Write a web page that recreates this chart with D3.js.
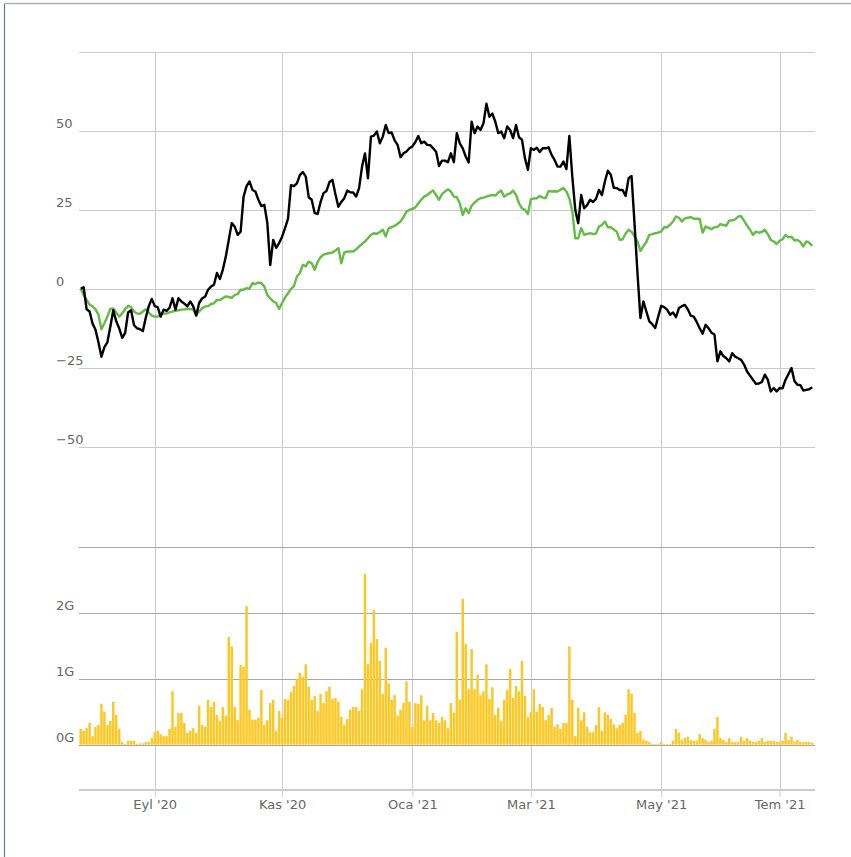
<!DOCTYPE html>
<html>
<head>
<meta charset="utf-8">
<script src="https://cdn.jsdelivr.net/npm/d3@7"></script>
<style>
  body { margin: 0; background: #fff; }
  svg { display: block; }
  text { font-family: "DejaVu Sans", sans-serif; }
</style>
</head>
<body>
<div id="chart"></div>
<script>
// trading calendar (Borsa Istanbul), one year of sessions
var firstDay = "2020-07-24";
var lastDay = "2021-07-19";
var holidays = ["2020-07-31", "2020-08-03", "2020-10-29", "2021-01-01", "2021-04-23",
                "2021-05-13", "2021-05-14", "2021-05-19", "2021-07-15"];

// x axis ticks: first session of these months
var tickMonths = ["2020-09", "2020-11", "2021-01", "2021-03", "2021-05", "2021-07"];
var tickLabels = ["Eyl '20", "Kas '20", "Oca '21", "Mar '21", "May '21", "Tem '21"];

// y axis ticks
var pctTicks = [-50, -25, 0, 25, 50, 75];
var volTicks = [0, 1, 2, 3];

// % change of the stock (black)
var stockPct = [
  0, 0.5, -6.5, -7.2, -11, -13, -17, -21.5, -18.5, -17,
  -12, -6.8, -10.3, -12.5, -15.5, -14, -7.5, -6.8, -11.5, -12.5,
  -12.8, -13.4, -9, -5.5, -3.2, -5.5, -5.8, -8.8, -6.6, -7,
  -6, -3, -6.6, -3, -4, -4.7, -5.6, -4, -5.6, -8.5,
  -4.5, -3, -2.5, -0.3, 0.7, 1.3, 5, 3.1, 6.1, 10.2,
  15.5, 20.8, 19.7, 17.1, 18.1, 29.2, 32.5, 34, 31.3, 30.8,
  28.2, 26.2, 26.6, 21, 7.5, 15.5, 13, 14.5, 16.5, 19.2,
  22.2, 32.8, 32.5, 33.4, 36, 37, 35.5, 29, 28.2, 24,
  23.7, 27.5, 30.3, 31, 33.8, 34.5, 30, 26, 27.5, 28.7,
  31.1, 30.6, 30.5, 29.2, 31.9, 38.7, 42.9, 35, 48.2, 48.5,
  49.8, 46.1, 48.2, 51.9, 49.3, 49.5, 47, 45.6, 41.7, 42.9,
  43.5, 44.5, 45.1, 46.5, 48.4, 46.1, 46.6, 45.6, 45.5, 44.5,
  43.4, 38.9, 40.6, 40.6, 40.1, 42.9, 40.1, 49.3, 46.1, 44.5,
  41.9, 40, 52.9, 49.3, 51.4, 50.3, 52.4, 58.6, 54.5, 55.5,
  52.9, 49.3, 49.8, 47.7, 51.4, 50.3, 47.7, 51.9, 48, 47.2,
  41.4, 37.7, 44.5, 44, 44.7, 43.3, 44.5, 44.5, 44.8, 42.4,
  40.8, 38.7, 38.7, 40.3, 37.9, 48.4, 35.5, 25, 20.8, 29.7,
  25.5, 26.5, 28.2, 27.5, 28.5, 31.3, 29.7, 34, 37.4, 36.1,
  32, 31.9, 31.3, 31.3, 29.4, 35, 35.7, 20.8, 5, -9.3,
  -4, -7.2, -10.3, -11.2, -12.4, -8.8, -5.4, -5.8, -6.6, -8.2,
  -7.5, -9, -6.1, -5.5, -5.1, -6.5, -8.5, -8.8, -10.5, -12.5,
  -14.2, -11.4, -12.5, -13.9, -14.5, -23, -19.8, -21.3, -22, -23,
  -20.4, -21.5, -22, -22.5, -24, -26.2, -27.5, -28.8, -30.1, -30,
  -29.5, -27.2, -28.8, -32.5, -31.4, -32.5, -31.4, -31.5, -28.8, -27,
  -25.1, -29.2, -30.4, -30.5, -32.2, -32, -31.8, -31.2
];

// % change of the index (green)
var indexPct = [
  0, -2, -3.5, -5, -5.6, -6.5, -8.2, -12.8, -10.9, -8.8,
  -6.4, -6.2, -7.5, -8.8, -7.8, -6.5, -5.4, -5.8, -7.2, -7.8,
  -7.9, -7.2, -6.5, -7.5, -8.5, -8.8, -8.8, -8, -7.8, -7.8,
  -7.5, -7.2, -7, -6.8, -6.6, -6.5, -6.4, -6.4, -6.6, -8.2,
  -7.2, -6.2, -5.6, -5.5, -4.8, -4.6, -3.5, -3.6, -3, -2.4,
  -2.6, -2.9, -1.9, -1.7, -0.3, -0.3, 0.2, 0, 1.8, 1.5,
  2, 1.8, 0.7, -2, -3, -4, -4.5, -6.4, -4.5, -2.8,
  -1.4, 0, 0.8, 3.9, 5, 7.6, 7.1, 8.6, 8.1, 6,
  8.5, 10, 10.8, 11.1, 11.3, 11.5, 12.1, 12.9, 8.1, 11.5,
  11.8, 11.8, 11.8, 12.5, 13.4, 14.2, 15, 16, 17.1, 17.6,
  17.4, 18, 18.7, 16.6, 19.2, 19.5, 19.9, 20.6, 21.3, 22.7,
  24.5, 25, 25.3, 25.8, 27.1, 28.2, 29.2, 29.7, 30.5, 31.1,
  29.7, 28.2, 30, 30.8, 31.5, 30.8, 29.2, 29, 27.1, 23.4,
  25.5, 24, 26.3, 27.3, 28.2, 28.7, 28.9, 29.2, 29.5, 29.7,
  29.5, 30.5, 31.1, 29.2, 29.9, 30.2, 31.1, 29.7, 27.1, 25.5,
  25, 23.7, 28.4, 28.6, 28.7, 29.4, 28.9, 28.7, 31, 30.8,
  30.9, 30.8, 31.4, 31.9, 30.8, 28.7, 24.5, 16, 16, 19.2,
  17.1, 17.4, 17.6, 17.3, 17.5, 19.7, 20.2, 21.3, 19.5, 19.5,
  18.8, 18.1, 15.5, 15.7, 17.5, 18.7, 18.1, 16.6, 15, 12,
  13.5, 14.8, 17.1, 17.3, 17.6, 17.8, 18.1, 19.5, 19.5, 20.3,
  21.3, 22.9, 22.5, 21.3, 22.3, 22.5, 22.7, 22.2, 22.2, 22.1,
  17.8, 19.7, 19.3, 18.9, 19.5, 19.6, 20.5, 20.2, 20, 21.6,
  21.7, 22, 22.9, 23, 21.5, 20, 18.7, 17.1, 18.1, 17.8,
  18, 18.7, 17.3, 15.5, 15, 14.2, 15.2, 15.7, 17.1, 16.3,
  16.5, 15.3, 15.5, 14.8, 13.4, 15, 14.6, 13.6
];

// traded volume, billions (G)
var volumeG = [
  0.24, 0.21, 0.25, 0.33, 0.13, 0.27, 0.3, 0.62, 0.5, 0.3,
  0.36, 0.65, 0.45, 0.24, 0.04, 0.01, 0.06, 0.06, 0.06, 0.01,
  0.02, 0.02, 0.04, 0.04, 0.1, 0.19, 0.21, 0.16, 0.13, 0.13,
  0.24, 0.81, 0.27, 0.48, 0.48, 0.33, 0.18, 0.21, 0.25, 0.18,
  0.59, 0.3, 0.27, 0.68, 0.57, 0.65, 0.45, 0.36, 0.57, 0.44,
  1.63, 1.49, 0.57, 0.37, 1.21, 1.18, 2.1, 0.53, 0.38, 0.38,
  0.41, 0.83, 0.3, 0.37, 0.63, 0.68, 0.21, 0.51, 0.41, 0.69,
  0.68, 0.8, 0.89, 1.0, 1.09, 1.03, 1.22, 0.88, 0.68, 0.74,
  0.51, 0.77, 0.63, 0.81, 0.88, 0.69, 0.71, 0.65, 0.42, 0.3,
  0.39, 0.53, 0.57, 0.57, 0.51, 0.84, 2.59, 1.22, 1.54, 2.04,
  1.6, 1.27, 0.77, 1.47, 0.93, 0.68, 0.75, 0.44, 0.53, 0.63,
  0.96, 0.65, 0.27, 0.63, 0.62, 0.75, 0.37, 0.59, 0.37, 0.48,
  0.37, 0.33, 0.42, 0.37, 0.25, 0.63, 0.48, 1.71, 0.68, 2.21,
  1.53, 0.84, 1.45, 0.84, 1.06, 0.75, 0.81, 1.22, 0.69, 0.87,
  0.45, 0.56, 0.36, 0.68, 0.83, 1.15, 0.71, 0.89, 0.81, 1.27,
  0.74, 0.42, 0.5, 0.84, 0.5, 0.62, 0.57, 0.37, 0.45, 0.56,
  0.27, 0.31, 0.24, 0.33, 0.33, 1.49, 0.68, 0.13, 0.56, 0.37,
  0.49, 0.27, 0.19, 0.19, 0.3, 0.57, 0.21, 0.49, 0.45, 0.39,
  0.31, 0.25, 0.3, 0.33, 0.45, 0.84, 0.77, 0.48, 0.18, 0.21,
  0.08, 0.06, 0.04, 0.01, 0.01, 0.01, 0.04, 0.01, 0.01, 0.01,
  0.06, 0.24, 0.18, 0.07, 0.1, 0.12, 0.07, 0.06, 0.06, 0.16,
  0.1, 0.07, 0.04, 0.06, 0.24, 0.42, 0.1, 0.07, 0.04, 0.1,
  0.04, 0.04, 0.04, 0.12, 0.06, 0.1, 0.06, 0.04, 0.04, 0.06,
  0.1, 0.04, 0.06, 0.06, 0.06, 0.04, 0.04, 0.06, 0.18, 0.07,
  0.12, 0.04, 0.07, 0.04, 0.04, 0.04, 0.04, 0.03
];

function init() {
    var w = 851;
    var h = 857;

    var plotLeft = 79;
    var plotRight = 815;
    var topPanel = [525.6, 52];     // pixel range of the % panel
    var volPanel = [744.7, 546.7];  // pixel range of the volume panel
    var axisY = 790;

    var dayKey = d3.utcFormat("%Y-%m-%d");
    var sessions = d3.utcDay.range(new Date(firstDay), d3.utcDay.offset(new Date(lastDay), 1))
        .filter(function (d) {
            var wd = d.getUTCDay();
            return wd != 0 && wd != 6 && holidays.indexOf(dayKey(d)) < 0;
        });

    var tickIdx = tickMonths.map(function (m) {
        return sessions.findIndex(function (d) { return dayKey(d) >= m + "-01"; });
    });

    var n = stockPct.length;

    var x = d3.scaleLinear()
        .domain([0, n - 1])
        .range([80.7, 812.2]);

    var yPct = d3.scaleLinear()
        .domain([-75, 75])
        .range(topPanel);

    var yVol = d3.scaleLinear()
        .domain([0, 3])
        .range(volPanel);

    var svg = d3.select("#chart")
        .append("svg")
        .attr("width", w)
        .attr("height", h);

    // outer frame
    svg.append("line")
        .attr("x1", 4.5).attr("x2", 4.5).attr("y1", 3).attr("y2", h)
        .attr("stroke", "#6a7b85").attr("stroke-width", 1.2);
    svg.append("line")
        .attr("x1", 4).attr("x2", w).attr("y1", 3.5).attr("y2", 3.5)
        .attr("stroke", "#a9b2b7").attr("stroke-width", 1.5);

    // vertical grid
    svg.append("g")
        .selectAll("line")
        .data(tickIdx)
        .enter()
        .append("line")
        .attr("x1", function (d) { return Math.round(x(d)) + 0.5; })
        .attr("x2", function (d) { return Math.round(x(d)) + 0.5; })
        .attr("y1", 52)
        .attr("y2", axisY)
        .attr("stroke", "#cccccc");

    // horizontal grid, % panel
    svg.append("g")
        .selectAll("line")
        .data(pctTicks)
        .enter()
        .append("line")
        .attr("x1", plotLeft)
        .attr("x2", plotRight)
        .attr("y1", function (d) { return Math.round(yPct(d)) + 0.5; })
        .attr("y2", function (d) { return Math.round(yPct(d)) + 0.5; })
        .attr("stroke", "#cbcbcb");

    // horizontal grid, volume panel
    svg.append("g")
        .selectAll("line")
        .data(volTicks)
        .enter()
        .append("line")
        .attr("x1", plotLeft)
        .attr("x2", plotRight)
        .attr("y1", function (d) { return Math.round(yVol(d)) + 0.5; })
        .attr("y2", function (d) { return Math.round(yVol(d)) + 0.5; })
        .attr("stroke", "#a8a8a8");

    // y labels
    svg.append("g")
        .selectAll("text")
        .data(pctTicks.filter(function (d) { return d < 75; }))
        .enter()
        .append("text")
        .attr("x", 56)
        .attr("y", function (d) { return yPct(d) - 3; })
        .attr("fill", "#666")
        .attr("font-size", 13)
        .text(function (d) { return d < 0 ? "\u2212" + Math.abs(d) : d; });

    svg.append("g")
        .selectAll("text")
        .data(volTicks.filter(function (d) { return d < 3; }))
        .enter()
        .append("text")
        .attr("x", 56)
        .attr("y", function (d) { return yVol(d) - 3; })
        .attr("fill", "#666")
        .attr("font-size", 13)
        .text(function (d) { return d + "G"; });

    // volume bars
    svg.append("g")
        .selectAll("rect")
        .data(volumeG)
        .enter()
        .append("rect")
        .attr("x", function (d, i) { return x(i) - 1.25; })
        .attr("width", 2.5)
        .attr("y", function (d) { return yVol(d); })
        .attr("height", function (d) { return yVol(0) - yVol(d); })
        .attr("fill", "#fcc826");

    var line = d3.line()
        .x(function (d, i) { return x(i); })
        .y(function (d) { return yPct(d); });

    svg.append("path")
        .datum(indexPct)
        .attr("d", line)
        .attr("fill", "none")
        .attr("stroke", "#64bb46")
        .attr("stroke-width", 2.4)
        .attr("stroke-linejoin", "round");

    svg.append("path")
        .datum(stockPct)
        .attr("d", line)
        .attr("fill", "none")
        .attr("stroke", "#000")
        .attr("stroke-width", 2.4)
        .attr("stroke-linejoin", "round");

    // x axis
    var xAxis = d3.axisBottom(x)
        .tickValues(tickIdx)
        .tickFormat(function (d, i) { return tickLabels[i]; })
        .tickSize(7)
        .tickPadding(3);

    var gx = svg.append("g")
        .attr("transform", "translate(0," + axisY + ")")
        .call(xAxis);

    gx.select(".domain").remove();
    gx.append("line")
        .attr("x1", plotLeft).attr("x2", plotRight)
        .attr("stroke", "#cccccc").attr("stroke-width", 2);
    gx.selectAll(".tick line").attr("stroke", "#cccccc");
    gx.selectAll(".tick text")
        .attr("fill", "#666")
        .attr("font-size", 13)
        .attr("font-family", "DejaVu Sans, sans-serif");
}

window.onload = init;
</script>
</body>
</html>
